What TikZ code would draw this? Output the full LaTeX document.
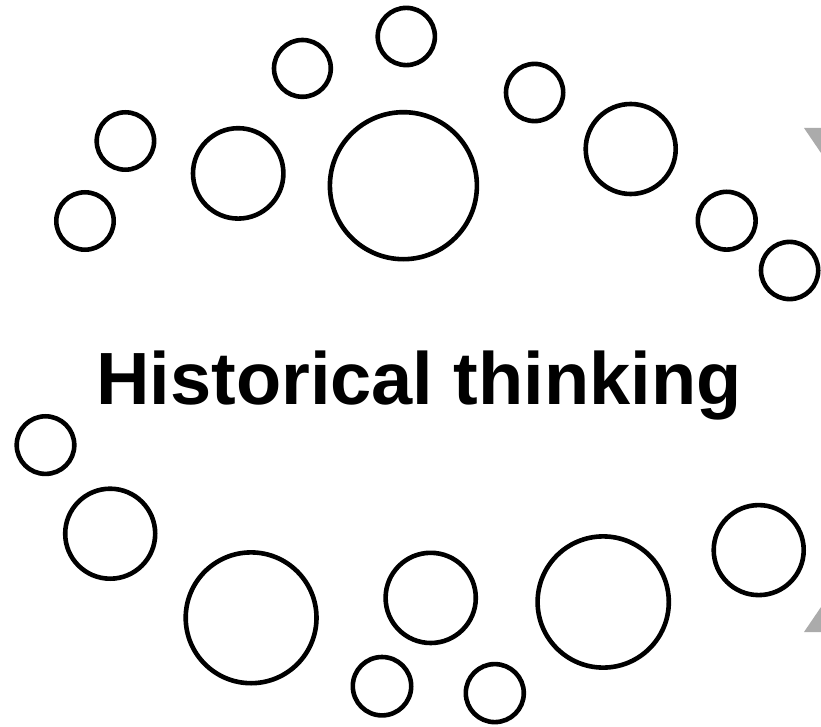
\documentclass[tikz,border=0pt]{standalone}
\usepackage{fontspec}
\setmainfont{Liberation Sans}
\begin{document}
\begin{tikzpicture}[x=1pt,y=-1pt,
  ring/.style={draw=black,line width=4.6pt,fill=none},
  greyshape/.style={fill=black!33,draw=none},
  title/.style={font=\fontsize{74}{80}\selectfont\bfseries,inner sep=0pt,anchor=base}]
\useasboundingbox (0,0) rectangle (821,727);
% gray arrow fragments at right edge
\fill[greyshape] (804,128) -- (821,128) -- (821,153) -- cycle;
\fill[greyshape] (804,632) -- (821,632) -- (821,607) -- cycle;
% upper arc of circles
\draw[ring] (406.3,36.5) circle (28.6);
\draw[ring] (302.4,68.4) circle (28.4);
\draw[ring] (534.6,92.5) circle (28.6);
\draw[ring] (125.4,141) circle (28.7);
\draw[ring] (85,221) circle (28.7);
\draw[ring] (238.2,173.4) circle (45.2);
\draw[ring] (403.4,185.7) circle (73.5);
\draw[ring] (630.7,149) circle (45.0);
\draw[ring] (726.7,220.7) circle (28.9);
\draw[ring] (789.6,270.5) circle (28.6);
% lower arc of circles
\draw[ring] (45.5,445.1) circle (28.8);
\draw[ring] (110.2,533.7) circle (45.0);
\draw[ring] (251.1,617.8) circle (65.4);
\draw[ring] (430.7,597.9) circle (45.1);
\draw[ring] (603.2,602) circle (65.6);
\draw[ring] (758.7,550.1) circle (45.0);
\draw[ring] (382,686.2) circle (29.2);
\draw[ring] (494.8,693.1) circle (29.0);
\node[title] (t) at (419,404) {Historical thinking};
\end{tikzpicture}
\end{document}
